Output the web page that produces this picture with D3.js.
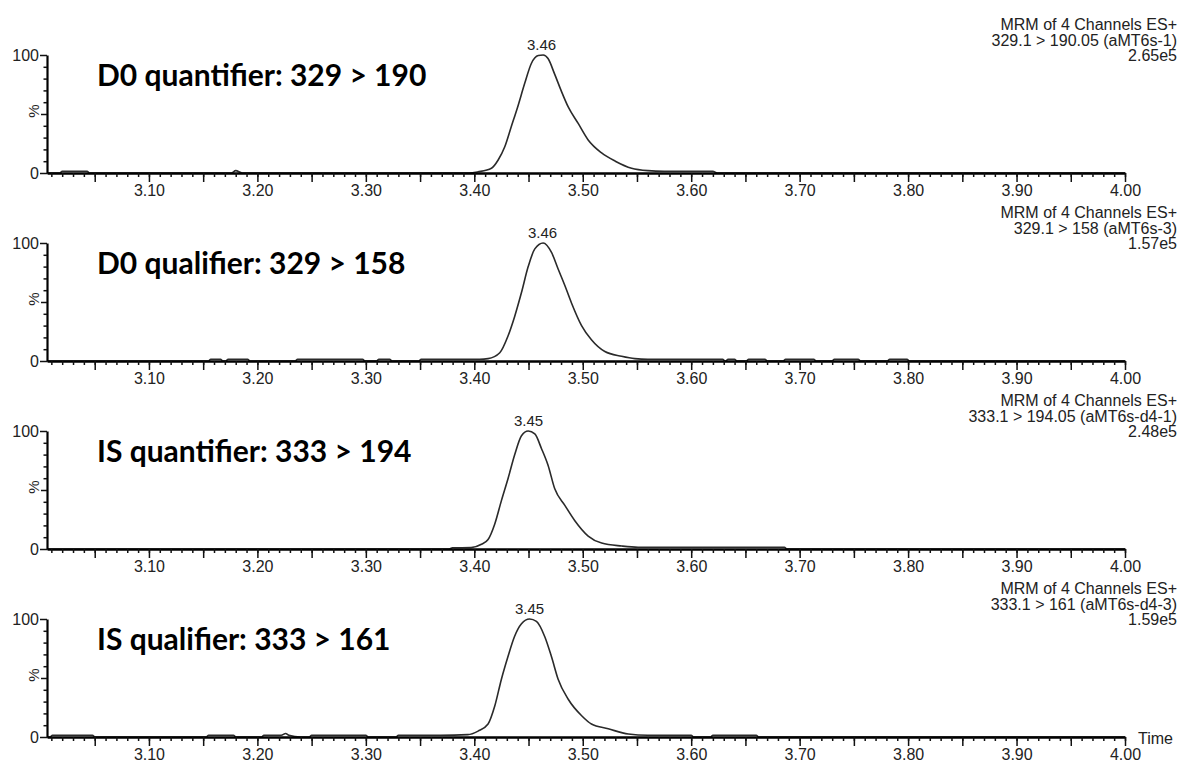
<!DOCTYPE html>
<html><head><meta charset="utf-8">
<script src="https://cdn.jsdelivr.net/npm/d3@7"></script>
<style>
body{margin:0;background:#fff}
svg{display:block}
text{font-family:"Liberation Sans",Arial,sans-serif}
text.big{font-family:Lato,"Open Sans",sans-serif;font-weight:700}
</style>
</head><body>
<svg id="c" width="1179" height="765"></svg>
<script>
// ---------- data ----------
const timeDomain = [3.006, 4.00];
const xTickLabels = ["3.10","3.20","3.30","3.40","3.50","3.60","3.70","3.80","3.90","4.00"];
const yTickLabels = ["0","100"];
const panelLabels = ["D0 quantifier: 329 > 190","D0 qualifier: 329 > 158","IS quantifier: 333 > 194","IS qualifier: 333 > 161"];
const headerTitle = "MRM of 4 Channels ES+";
const channelNames = ["329.1 > 190.05 (aMT6s-1)","329.1 > 158 (aMT6s-3)","333.1 > 194.05 (aMT6s-d4-1)","333.1 > 161 (aMT6s-d4-3)"];
const intensities = ["2.65e5","1.57e5","2.48e5","1.59e5"];
const peakTimes = [3.462, 3.463, 3.450, 3.451];
const peakLabels = ["3.46","3.46","3.45","3.45"];

const traceD0Quant = [[3.006,0],[3.018,0],[3.020,1.5],[3.043,1.5],[3.045,0],[3.176,0],[3.180,2],[3.186,0],[3.395,0],[3.4035,1],[3.4158,4],[3.422,11],[3.428,22],[3.434,39],[3.440,56],[3.4465,76],[3.4527,93],[3.459,99.5],[3.4635,100],[3.468,97],[3.474,84],[3.480,70],[3.4866,56],[3.4958,42],[3.505,28],[3.5174,17],[3.530,10],[3.545,4],[3.560,2],[3.575,1.5],[3.620,1.5],[3.624,0],[4.000,0]];
const traceD0Qual = [[3.006,0],[3.155,0],[3.157,1.5],[3.166,1.5],[3.168,0],[3.171,0],[3.173,1.5],[3.191,1.5],[3.193,0],[3.235,0],[3.237,1.5],[3.297,1.5],[3.299,0],[3.310,0],[3.312,1.5],[3.322,1.5],[3.324,0],[3.349,0],[3.351,1.5],[3.405,1.5],[3.4127,2],[3.4235,7],[3.431,21],[3.4373,38],[3.4435,58],[3.4497,80],[3.4558,95],[3.4635,100],[3.4712,92],[3.4773,78],[3.4835,64],[3.4897,49],[3.4989,30],[3.508,18],[3.5204,8],[3.5358,4],[3.548,2],[3.560,1.5],[3.629,1.5],[3.631,0],[3.632,0],[3.634,1.5],[3.640,1.5],[3.642,0],[3.651,0],[3.653,1.5],[3.668,1.5],[3.670,0],[3.685,0],[3.687,1.5],[3.713,1.5],[3.715,0],[3.730,0],[3.732,1.5],[3.754,1.5],[3.756,0],[3.781,0],[3.783,1.5],[3.799,1.5],[3.801,0],[4.000,0]];
const traceISQuant = [[3.006,0],[3.376,0],[3.380,1],[3.397,1.2],[3.4066,4],[3.4127,8],[3.4188,21],[3.425,41],[3.4312,60],[3.4373,80],[3.4435,96],[3.4497,100],[3.4558,97.5],[3.462,85],[3.468,71],[3.4742,51],[3.4835,37],[3.4927,24],[3.505,11],[3.5174,5],[3.536,2.5],[3.551,1.5],[3.686,1.5],[3.688,0],[4.000,0]];
const traceISQual = [[3.006,0],[3.009,0],[3.011,1.5],[3.048,1.5],[3.050,0],[3.153,0],[3.155,1.5],[3.178,1.5],[3.180,0],[3.204,0],[3.206,1.5],[3.222,1.5],[3.226,3],[3.229,1.5],[3.240,0],[3.248,0],[3.250,1.5],[3.300,1.5],[3.302,0],[3.328,0],[3.330,1.5],[3.369,1.5],[3.394,2],[3.4035,5],[3.4127,11],[3.4188,26],[3.425,49],[3.431,68],[3.437,85],[3.4435,96],[3.451,100],[3.4573,98],[3.465,85],[3.4712,68],[3.4773,49],[3.4866,32],[3.499,18],[3.508,11],[3.5235,7],[3.542,2.5],[3.560,1.5],[3.600,1.5],[3.602,0],[3.618,0],[3.620,1.5],[3.660,1.5],[3.662,0],[4.000,0]];
const traces = [traceD0Quant, traceD0Qual, traceISQuant, traceISQual];

// ---------- layout ----------
const svg = d3.select("#c");
const left = 47, right = 1125;
const panelTop0 = 55, panelStep = 188, panelH = 118;
const x = d3.scaleLinear().domain(timeDomain).range([left, right]);
const minorTicks = d3.range(301, 401).map(k => k / 100);
const majorTicks = d3.range(302, 401, 1).filter(k => k % 5 === 0).map(k => k / 100);
const textCol = "#222";

traces.forEach((data, i) => {
  const top = panelTop0 + i * panelStep;
  const y = d3.scaleLinear().domain([0, 100]).range([top + panelH, top]);
  const g = svg.append("g");

  // trace
  const line = d3.line().x(d => x(d[0])).y(d => y(d[1])).curve(d3.curveMonotoneX);
  g.append("path").attr("d", line(data)).attr("fill", "none")
    .attr("stroke", "#2a2a2a").attr("stroke-width", 1.6).attr("stroke-linejoin", "round");

  // x axis minor
  const xMinor = d3.axisBottom(x).tickValues(minorTicks).tickSize(4).tickSizeOuter(0).tickFormat("");
  const gxm = g.append("g").attr("transform", `translate(0,${top + panelH})`).call(xMinor);
  gxm.select(".domain").attr("stroke", "#000").attr("stroke-width", 2.5);
  gxm.selectAll(".tick line").attr("stroke", "#111").attr("stroke-width", 1.5);

  // x axis major
  const xMajor = d3.axisBottom(x).tickValues(majorTicks).tickSize(9).tickSizeOuter(0).tickPadding(3)
    .tickFormat(d => { const k = Math.round(d * 100); return k % 10 === 0 ? xTickLabels[(k - 310) / 10] : ""; });
  const gx = g.append("g").attr("transform", `translate(0,${top + panelH})`).call(xMajor);
  gx.select(".domain").remove();
  gx.selectAll(".tick line").attr("stroke", "#111").attr("stroke-width", 1.5);
  gx.selectAll(".tick text").attr("font-size", 16).attr("fill", textCol);

  // y axis minor
  const yMinor = d3.axisLeft(y).tickValues(d3.range(10, 100, 10)).tickSize(3.5).tickSizeOuter(0).tickFormat("");
  const gym = g.append("g").attr("transform", `translate(${left},0)`).call(yMinor);
  gym.select(".domain").attr("stroke", "#000").attr("stroke-width", 2.2);
  gym.selectAll(".tick line").attr("stroke", "#111").attr("stroke-width", 1.5)
    .attr("x2", d => d === 50 ? -6 : -3.5);

  // y axis major
  const yMajor = d3.axisLeft(y).tickValues([0, 100]).tickSize(7).tickSizeOuter(0).tickPadding(1)
    .tickFormat((d, j) => yTickLabels[j]);
  const gy = g.append("g").attr("transform", `translate(${left},0)`).call(yMajor);
  gy.select(".domain").remove();
  gy.selectAll(".tick line").attr("stroke", "#111").attr("stroke-width", 1.5);
  gy.selectAll(".tick text").attr("font-size", 16).attr("fill", textCol);

  // % label
  g.append("text").attr("transform", `translate(33,${y(50) - 3}) rotate(-90)`)
    .attr("text-anchor", "middle").attr("dominant-baseline", "central")
    .attr("font-size", 15).attr("fill", textCol).text("%");

  // header (right aligned)
  const hdr = [headerTitle, channelNames[i], intensities[i]];
  hdr.forEach((s, j) => {
    g.append("text").attr("x", 1177).attr("y", top - 25 + j * 15.5)
      .attr("text-anchor", "end").attr("font-size", 16).attr("fill", textCol).text(s);
  });

  // peak label
  g.append("text").attr("x", x(peakTimes[i])).attr("y", top - 5)
    .attr("text-anchor", "middle").attr("font-size", 15).attr("fill", textCol).text(peakLabels[i]);

  // big label
  g.append("text").attr("class", "big").attr("x", 97).attr("y", top + 31)
    .attr("font-size", 30).attr("fill", "#000").text(panelLabels[i]);

  if (i === traces.length - 1) {
    g.append("text").attr("x", 1138).attr("y", top + panelH + 7)
      .attr("font-size", 16).attr("fill", textCol).text("Time");
  }
});
</script>
</body></html>
